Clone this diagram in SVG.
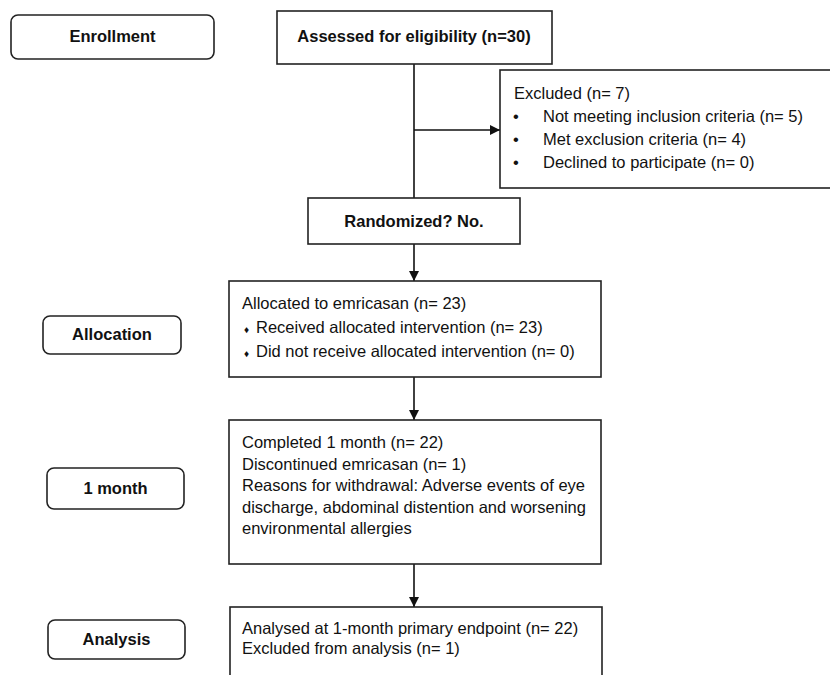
<svg xmlns="http://www.w3.org/2000/svg" width="830" height="675" viewBox="0 0 830 675">
<style>
  .box { fill: #fff; stroke: #222; stroke-width: 1.6; }
  .stage { fill: #fff; stroke: #222; stroke-width: 1.6; }
  .lbl { font-family: "Liberation Sans", Arial, sans-serif; font-size: 16.5px; font-weight: bold; fill: #111; text-anchor: middle; }
  .txt { font-family: "Liberation Sans", Arial, sans-serif; font-size: 16.5px; fill: #111; }
  .conn { stroke: #111; stroke-width: 1.6; fill: none; }
</style>
<defs>
  <marker id="arr" viewBox="0 0 10 10" refX="10" refY="5" markerWidth="10" markerHeight="10" markerUnits="userSpaceOnUse" orient="auto">
    <path d="M0,0 L10,5 L0,10 Z" fill="#111"/>
  </marker>
</defs>
<rect width="830" height="675" fill="#fff"/>

<g id="connectors">
  <line class="conn" x1="414" y1="64" x2="414" y2="198"/>
  <line class="conn" x1="414" y1="130" x2="500" y2="130" marker-end="url(#arr)"/>
  <line class="conn" x1="414" y1="244" x2="414" y2="281" marker-end="url(#arr)"/>
  <line class="conn" x1="414" y1="377" x2="414" y2="420" marker-end="url(#arr)"/>
  <line class="conn" x1="414" y1="564" x2="414" y2="607" marker-end="url(#arr)"/>
</g>

<g id="enrollment">
  <rect class="stage" x="11" y="15" width="203" height="44" rx="7"/>
  <text class="lbl" x="112.5" y="42">Enrollment</text>
</g>

<g id="assessed">
  <rect class="box" x="277" y="11" width="275" height="53"/>
  <text class="lbl" x="414" y="42">Assessed for eligibility (n=30)</text>
</g>

<g id="excluded">
  <rect class="box" x="500" y="70" width="332" height="118"/>
  <text class="txt" x="514" y="99">Excluded (n= 7)</text>
  <text class="txt" x="513" y="122">•</text>
  <text class="txt" x="543" y="122">Not meeting inclusion criteria (n= 5)</text>
  <text class="txt" x="513" y="145">•</text>
  <text class="txt" x="543" y="145">Met exclusion criteria (n= 4)</text>
  <text class="txt" x="513" y="168">•</text>
  <text class="txt" x="543" y="168">Declined to participate (n= 0)</text>
</g>

<g id="randomized">
  <rect class="box" x="308" y="198" width="212" height="46"/>
  <text class="lbl" x="414" y="227">Randomized? No.</text>
</g>

<g id="allocation-stage">
  <rect class="stage" x="43" y="316" width="138" height="38" rx="7"/>
  <text class="lbl" x="112" y="340">Allocation</text>
</g>

<g id="allocated">
  <rect class="box" x="229" y="281" width="372" height="96"/>
  <text class="txt" x="242" y="309">Allocated to emricasan (n= 23)</text>
  <text class="txt" x="244" y="333" style="font-size:10px">♦</text>
  <text class="txt" x="256" y="333">Received allocated intervention (n= 23)</text>
  <text class="txt" x="244" y="357" style="font-size:10px">♦</text>
  <text class="txt" x="256" y="357">Did not receive allocated intervention (n= 0)</text>
</g>

<g id="month-stage">
  <rect class="stage" x="47" y="468" width="137" height="41" rx="7"/>
  <text class="lbl" x="115.5" y="494">1 month</text>
</g>

<g id="completed">
  <rect class="box" x="229" y="420" width="372" height="144"/>
  <text class="txt" x="242" y="448">Completed 1 month (n= 22)</text>
  <text class="txt" x="242" y="469.5">Discontinued emricasan (n= 1)</text>
  <text class="txt" x="242" y="491">Reasons for withdrawal: Adverse events of eye</text>
  <text class="txt" x="242" y="512.5">discharge, abdominal distention and worsening</text>
  <text class="txt" x="242" y="534">environmental allergies</text>
</g>

<g id="analysis-stage">
  <rect class="stage" x="48" y="620" width="137" height="39" rx="7"/>
  <text class="lbl" x="116.5" y="645">Analysis</text>
</g>

<g id="analysed">
  <rect class="box" x="230" y="607" width="372" height="80"/>
  <text class="txt" x="242" y="634">Analysed at 1-month primary endpoint (n= 22)</text>
  <text class="txt" x="242" y="654">Excluded from analysis (n= 1)</text>
</g>
</svg>
